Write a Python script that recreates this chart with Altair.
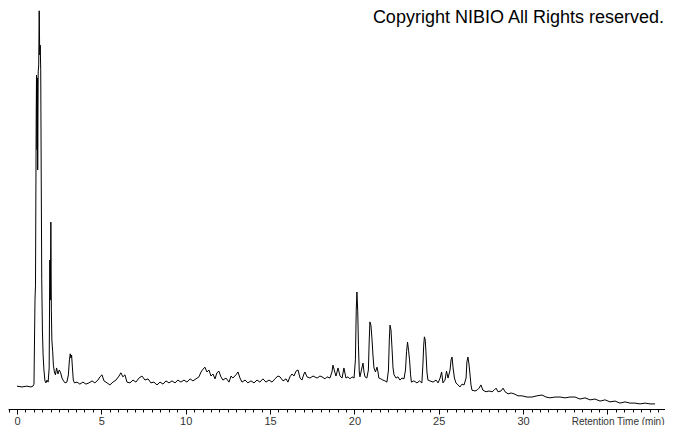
import altair as alt
import pandas as pd

# Retention time (min) and detector signal (relative intensity, %)
time_min = [
    0.00, 0.30, 0.59, 0.83, 0.95, 1.01, 1.07, 1.10, 1.14, 1.16, 1.19, 1.21, 1.23, 1.26, 1.29,
    1.32, 1.35, 1.38, 1.41, 1.44, 1.47, 1.51, 1.55, 1.60, 1.66, 1.72, 1.78, 1.85, 1.91, 1.95,
    1.98, 2.01, 2.04, 2.07, 2.12, 2.16, 2.22, 2.28, 2.35, 2.43, 2.51, 2.59, 2.67, 2.76, 2.85,
    2.96, 3.05, 3.11, 3.16, 3.20, 3.24, 3.29, 3.34, 3.41,
    3.56, 3.73, 3.91, 4.09, 4.27, 4.45, 4.62, 4.80, 4.92, 5.04, 5.16, 5.34, 5.51, 5.69, 5.87,
    6.05, 6.16, 6.28, 6.40, 6.52, 6.70, 6.88, 7.05, 7.23, 7.41, 7.59, 7.77, 7.94, 8.12, 8.30,
    8.48, 8.66, 8.83, 9.01, 9.19, 9.37, 9.54, 9.72, 9.90, 10.08, 10.26, 10.43, 10.61, 10.79,
    10.91, 11.03, 11.14, 11.26, 11.38, 11.50, 11.62, 11.74, 11.85, 11.97, 12.09, 12.21, 12.39,
    12.57, 12.69, 12.80, 12.98, 13.10, 13.22, 13.34, 13.52, 13.69, 13.87, 14.05, 14.23, 14.40,
    14.58, 14.76, 14.94, 15.12, 15.29, 15.47, 15.59, 15.77, 15.95, 16.06, 16.18, 16.30, 16.42,
    16.54, 16.66, 16.78, 16.89, 17.01, 17.07, 17.19, 17.37, 17.55, 17.79, 17.96, 18.08, 18.26,
    18.38, 18.55, 18.67, 18.73, 18.85, 18.91, 19.03, 19.15, 19.27, 19.38, 19.50, 19.62, 19.74,
    19.86, 19.98, 20.06, 20.11, 20.15, 20.20, 20.24, 20.29, 20.33, 20.42, 20.51, 20.57, 20.63,
    20.74, 20.83, 20.88, 20.92, 20.98, 21.04, 21.10, 21.16, 21.25, 21.34, 21.40, 21.45, 21.57,
    21.69, 21.81, 21.93, 22.02, 22.07, 22.11, 22.17, 22.23, 22.29, 22.35, 22.47, 22.58, 22.70,
    22.82, 22.94, 23.03, 23.09, 23.15, 23.21, 23.27, 23.33, 23.38, 23.53, 23.71, 23.86, 24.00,
    24.06, 24.11, 24.15, 24.20, 24.24, 24.30, 24.36, 24.48, 24.66, 24.84, 24.96, 25.08, 25.17,
    25.25, 25.37, 25.46, 25.55, 25.67, 25.73, 25.79, 25.85, 25.93, 26.02, 26.14, 26.26, 26.38,
    26.50, 26.62, 26.67, 26.73, 26.79, 26.85, 26.91, 26.97, 27.15, 27.27, 27.39, 27.50, 27.62,
    27.80, 27.98, 28.16, 28.28, 28.40, 28.51, 28.69, 28.81, 28.93, 29.11, 29.29, 29.46, 29.70,
    29.94, 30.23, 30.53, 30.82, 31.12, 31.36, 31.59, 31.89, 32.19, 32.48, 32.78, 33.08, 33.37,
    33.67, 33.97, 34.26, 34.56, 34.86, 35.15, 35.45, 35.74, 36.04, 36.34, 36.63, 36.93, 37.23,
    37.52, 37.82,
]
intensity = [
    6.4, 6.2, 6.4, 6.2, 6.4, 6.9, 27.7, 31.4, 72.3, 83.4, 64.9, 82.7, 59.9, 84.2, 85.9,
    99.3, 88.4, 90.8, 84.7, 57.4, 32.7, 20.3, 14.1, 10.4, 7.7, 7.2, 7.9, 7.4, 10.9, 37.6,
    27.7, 47.0, 25.2, 17.8, 14.9, 11.6, 9.9, 9.2, 10.9, 9.4, 10.4, 9.7, 8.4, 7.7, 7.2,
    7.4, 9.2, 12.9, 14.4, 13.4, 14.1, 10.9, 7.9, 7.2,
    7.4, 6.9, 7.4, 6.9, 7.2, 7.7, 7.2, 7.9, 8.7, 9.2, 7.7, 7.2, 6.7, 7.4, 7.9,
    8.9, 9.7, 8.7, 9.2, 7.4, 7.2, 7.9, 7.4, 8.4, 8.9, 7.9, 8.2, 7.2, 7.4, 6.7,
    7.4, 6.9, 7.7, 7.2, 7.7, 7.2, 7.9, 7.4, 7.9, 7.4, 8.2, 7.7, 8.2, 8.7,
    9.9, 10.6, 11.1, 9.9, 10.4, 8.9, 9.4, 8.2, 9.7, 10.1, 8.7, 7.9, 8.4,
    7.4, 8.9, 8.4, 9.2, 9.9, 8.4, 7.4, 7.9, 7.2, 7.7, 7.2, 7.9, 7.4,
    8.2, 7.4, 7.9, 7.4, 8.2, 8.9, 8.7, 7.7, 8.2, 7.4, 8.7, 9.4, 8.9,
    10.1, 10.4, 8.4, 7.9, 9.4, 9.9, 8.7, 8.4, 8.9, 8.4, 8.9, 8.7, 8.2,
    8.7, 8.4, 9.9, 11.6, 9.7, 8.9, 10.9, 8.9, 8.4, 10.9, 8.4, 8.7, 8.2,
    8.7, 8.4, 12.9, 25.2, 29.7, 24.8, 16.6, 9.9, 8.7, 10.4, 12.1, 9.9, 8.7,
    8.4, 10.4, 17.8, 22.3, 21.5, 18.3, 14.1, 10.9, 9.9, 11.1, 9.9, 8.4, 8.2,
    7.9, 7.7, 7.4, 10.4, 17.8, 21.5, 20.3, 15.8, 10.9, 9.2, 8.4, 8.7, 7.9,
    8.4, 8.2, 10.4, 14.9, 17.3, 15.3, 12.9, 9.2, 7.4, 7.7, 7.2, 7.7, 7.2,
    11.6, 16.6, 18.6, 17.8, 14.9, 9.9, 7.9, 7.7, 7.4, 7.9, 7.2, 8.4, 9.9,
    7.2, 7.9, 10.1, 8.4, 10.4, 12.9, 13.6, 10.9, 8.4, 7.2, 6.7, 6.2, 6.9,
    6.7, 8.4, 12.4, 13.6, 11.9, 9.4, 6.7, 5.4, 5.2, 5.4, 5.9, 6.7, 5.4,
    5.0, 5.2, 5.0, 5.4, 5.9, 5.0, 5.2, 5.9, 5.0, 4.5, 4.7, 4.5, 4.0,
    4.0, 3.7, 3.7, 4.0, 4.2, 3.7, 3.5, 3.7, 3.7, 3.5, 3.7, 3.7, 3.2,
    3.5, 3.0, 3.2, 2.7, 3.0, 2.5, 2.7, 2.2, 2.5, 2.2, 2.2, 2.0, 2.2,
    2.0, 2.0,
]

minor_step = 0.5
x_domain = [-0.53, 38.41]
y_domain = [0.74, 100]
copyright_text = "Copyright NIBIO All Rights reserved."
x_title = "Retention Time (min)"

tick_values = [i * minor_step for i in range(-1, 77)]

df = pd.DataFrame({"t": time_min, "v": intensity})

line = alt.Chart(df).mark_line(color="black", strokeWidth=1).encode(
    x=alt.X(
        "t:Q",
        scale=alt.Scale(domain=x_domain, nice=False, zero=False),
        axis=alt.Axis(
            values=tick_values,
            tickSize={"condition": {"test": "datum.value % 5 === 0", "value": 5}, "value": 3},
            labelExpr="datum.value % 5 === 0 && datum.value >= 0 && datum.value <= 30 ? format(datum.value, '.0f') : ''",
            labelOverlap=False,
            labelFlush=False,
            labelBaseline="alphabetic",
            labelPadding=10,
            labelFont="Liberation Sans",
            labelFontSize=11,
            labelColor="#333333",
            domainColor="black",
            tickColor="black",
            grid=False,
            title=x_title,
            titleFont="Liberation Sans",
            titleFontSize=10,
            titleFontWeight="normal",
            titleColor="#333333",
            titleAnchor="end",
            titleAlign="right",
            titleBaseline="alphabetic",
            titleX=656,
            titleY=15,
        ),
    ),
    y=alt.Y("v:Q", scale=alt.Scale(domain=y_domain, nice=False, zero=False), axis=None),
    order="t:Q",
)

text = alt.Chart(pd.DataFrame({"label": [copyright_text]})).mark_text(
    align="right", baseline="alphabetic", fontSize=18, font="Liberation Sans", color="black"
).encode(x=alt.value(656), y=alt.value(15), text="label:N")

chart = alt.layer(line, text).properties(
    width=657,
    height=401,
    padding={"left": 0, "top": 0, "right": 0, "bottom": 16},
    autosize=alt.AutoSizeParams(type="none"),
).configure_view(stroke=None)

chart.save("out.html", embed_options={"renderer": "svg", "actions": False})
